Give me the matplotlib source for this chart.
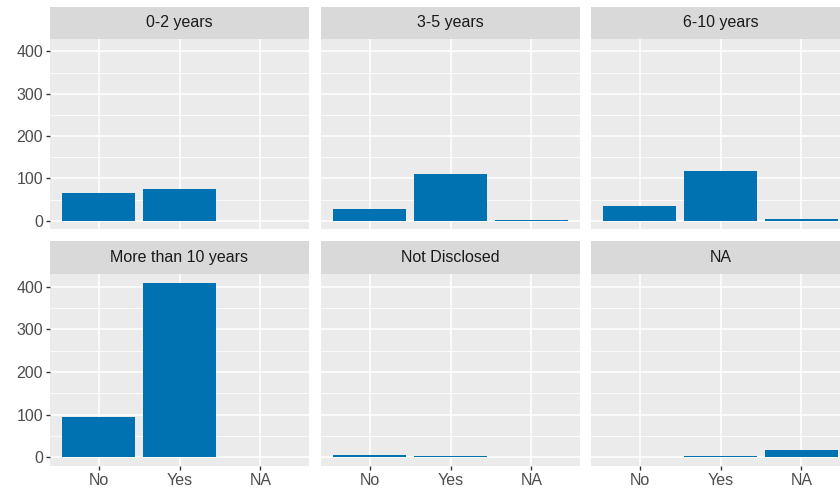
import numpy as np
import matplotlib.pyplot as plt

plt.rcParams['font.family'] = ['Liberation Sans', 'DejaVu Sans']

# counts per experience group for each answer
categories = ['No', 'Yes', 'NA']
groups = ['0-2 years', '3-5 years', '6-10 years',
          'More than 10 years', 'Not Disclosed', 'NA']
counts_0_2 = [65, 76, 0]
counts_3_5 = [29, 110, 2]
counts_6_10 = [34, 117, 5]
counts_10_plus = [95, 409, 0]
counts_undisclosed = [5, 2, 0]
counts_na = [0, 2, 18]
all_counts = [counts_0_2, counts_3_5, counts_6_10,
              counts_10_plus, counts_undisclosed, counts_na]
yticks = [0, 100, 200, 300, 400]

W, H = 840, 493
fig = plt.figure(figsize=(W / 100, H / 100), dpi=100)
fig.patch.set_facecolor('white')

col_x = [50, 321, 591]
panel_w = 259
rows = [(7, 39, 229.5), (241, 274, 466)]  # strip top, panel top, panel bottom

ymax = max(max(c) for c in all_counts)
ylim = (-0.05 * ymax, 1.05 * ymax)
x = np.arange(len(categories))

for i, (name, vals) in enumerate(zip(groups, all_counts)):
    r, c = divmod(i, 3)
    s_top, p_top, p_bot = rows[r]
    left = col_x[c]

    # strip
    sax = fig.add_axes([left / W, 1 - p_top / H, panel_w / W, (p_top - s_top) / H])
    sax.set_facecolor('#d9d9d9')
    sax.set_xticks([])
    sax.set_yticks([])
    for sp in sax.spines.values():
        sp.set_visible(False)
    sax.text(0.5, 0.5, name, ha='center', va='center', fontsize=11.5,
             color='#1a1a1a', transform=sax.transAxes)

    # panel
    ax = fig.add_axes([left / W, 1 - p_bot / H, panel_w / W, (p_bot - p_top) / H])
    ax.set_facecolor('#ebebeb')
    ax.set_xlim(-0.6, 2.6)
    ax.set_ylim(*ylim)
    ax.set_yticks(yticks)
    ax.set_yticks([50, 150, 250, 350], minor=True)
    ax.set_xticks(x)
    ax.grid(which='major', color='white', lw=1.1)
    ax.grid(which='minor', axis='y', color='white', lw=0.55)
    ax.set_axisbelow(True)
    for sp in ax.spines.values():
        sp.set_visible(False)

    ax.bar(x, vals, width=0.9, color='#0072b2', lw=0)

    ax.tick_params(axis='both', which='both', length=0, labelsize=11.5,
                   labelcolor='#4d4d4d')
    if r == 1:
        ax.set_xticklabels(categories)
        ax.tick_params(axis='x', length=3, width=1, color='#333333', pad=2)
    else:
        ax.set_xticklabels([])
    if c == 0:
        ax.set_yticklabels([str(t) for t in yticks])
        ax.tick_params(axis='y', which='major', length=3, width=1,
                       color='#333333', pad=2)
    else:
        ax.set_yticklabels([])

fig.savefig('out.png', dpi=100)
